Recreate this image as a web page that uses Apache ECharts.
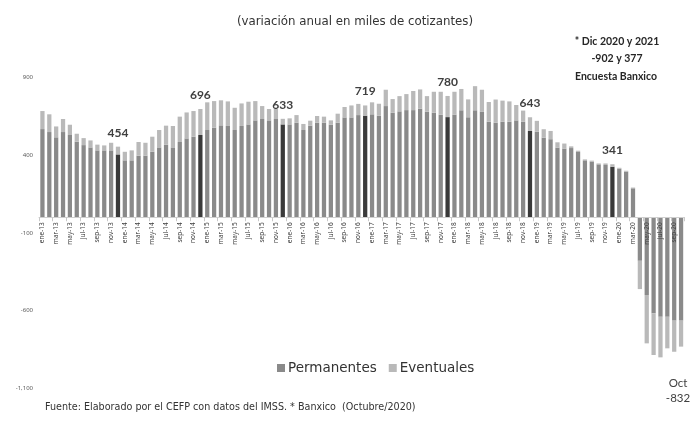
<!DOCTYPE html>
<html>
<head>
<meta charset="utf-8">
<script src="https://cdn.jsdelivr.net/npm/echarts@6/dist/echarts.min.js"></script>
<style>
html,body{margin:0;padding:0;background:#fff;}
#chart{width:695px;height:424px;}
</style>
</head>
<body>
<div id="chart"></div>
<script>
// Month abbreviations and years used for category labels (ene-13 ... oct-20)
const months = ['ene','feb','mar','abr','may','jun','jul','ago','sep','oct','nov','dic'];
const years = ['13','14','15','16','17','18','19','20'];
const monthCount = 94;

// Annual variation, thousands of insured workers
const permanentes = [
  567,548,514,548,529,486,464,449,430,430,430,404,
  366,366,396,396,421,449,466,449,484,507,518,529,
  561,576,591,587,561,587,597,623,632,623,632,597,
  597,608,561,589,608,608,595,608,642,642,657,653,
  662,653,715,672,681,689,689,698,679,672,659,644,
  660,688,643,688,680,614,608,614,614,623,614,555,
  550,512,502,448,442,445,420,366,358,340,336,325,
  312,293,186,-280,-500,-618,-640,-640,-665,-665
];
const eventuales = [
  116,114,70,84,66,51,45,45,37,32,49,50,
  55,64,88,83,97,112,123,138,163,167,165,167,
  178,171,161,158,143,145,146,124,83,73,64,36,
  39,49,39,32,43,39,28,58,67,77,72,66,
  77,77,105,88,98,103,123,124,100,135,148,136,
  147,137,115,155,140,127,149,136,131,99,72,88,
  70,54,53,34,32,11,8,6,6,6,10,16,
  6,6,5,-182,-311,-268,-261,-203,-200,-167
];
const yTicks = [-1100, -600, -100, 400, 900];

const categories = [];
for (const y of years) for (const m of months) if (categories.length < monthCount) categories.push(m + '-' + y);

const colPerm = '#8a8a8a', colEvent = '#b9b9b9', colDec = '#3a3a3a';

const permData = permanentes.map((v, i) => categories[i].startsWith('dic')
  ? {value: v, itemStyle: {color: colDec}} : v);
const eventData = eventuales.map((v, i) => categories[i].startsWith('dic')
  ? {value: v, label: {show: true}} : v);

function fmtNum(v){ return String(v).replace(/\B(?=(\d{3})+(?!\d))/g, ','); }

// grid geometry
const gridTop = 77.3, gridBottom = 35.7, chartH = 424;
const yMin = yTicks[0], yMax = yTicks[yTicks.length - 1];
const plotH = chartH - gridTop - gridBottom;
const zeroShift = plotH * (0 - yMin) / (yMax - yMin); // distance from bottom of grid to value 0

const chart = echarts.init(document.getElementById('chart'), null, {renderer: 'canvas'});
chart.setOption({
  animation: false,
  backgroundColor: '#fff',
  title: {
    text: '(variación anual en miles de cotizantes)',
    left: 350, top: 11, textAlign: 'center',
    textStyle: {fontFamily: 'DejaVu Sans', fontSize: 11.8, fontWeight: 'normal', color: '#333'}
  },
  grid: {left: 39, right: 10.5, top: gridTop, bottom: gridBottom, containLabel: false},
  legend: {
    data: ['Permanentes', 'Eventuales'],
    left: 272, top: 356,
    icon: 'rect', itemWidth: 8, itemHeight: 8, itemGap: 12,
    textStyle: {fontFamily: 'DejaVu Sans', fontSize: 13.5, color: '#333', padding: [0,0,0,-2]}
  },
  xAxis: {
    type: 'category',
    data: categories,
    offset: -zeroShift,
    z: 5,
    axisLine: {onZero: false, lineStyle: {color: '#d0d0d0', width: 1}},
    axisTick: {show: true, interval: 1, length: 4, lineStyle: {color: '#c8c8c8'}},
    axisLabel: {interval: 1, rotate: 90, fontSize: 6.5, fontFamily: 'Noto Sans', color: '#404040', margin: 5}
  },
  yAxis: {
    type: 'value',
    min: yMin, max: yMax, interval: 500,
    splitLine: {show: false}, axisLine: {show: false}, axisTick: {show: false},
    axisLabel: {fontSize: 6, fontFamily: 'Noto Sans', color: '#595959', margin: 6, formatter: fmtNum}
  },
  series: [
    {
      name: 'Permanentes', type: 'bar', stack: 'total',
      data: permData, barWidth: '62%', z: 2,
      itemStyle: {color: colPerm}
    },
    {
      name: 'Eventuales', type: 'bar', stack: 'total',
      data: eventData, barWidth: '62%', z: 2,
      itemStyle: {color: colEvent},
      label: {
        show: false, position: 'top', distance: 8,
        fontFamily: 'Lato', fontWeight: 'bold', fontSize: 12, color: '#404040',
        formatter: p => String(permanentes[p.dataIndex] + eventuales[p.dataIndex])
      }
    }
  ],
  graphic: [
    {type: 'text', style: {text: '* Dic 2020 y 2021', x: 617, y: 42, align: 'center', verticalAlign: 'middle', textAlign: 'center', textVerticalAlign: 'middle', fontFamily: 'Lato', fontWeight: 'bold', fontSize: 10.5, fill: '#262626'}},
    {type: 'text', style: {text: '-902 y 377', x: 617, y: 59, align: 'center', verticalAlign: 'middle', textAlign: 'center', textVerticalAlign: 'middle', fontFamily: 'Lato', fontWeight: 'bold', fontSize: 10.5, fill: '#262626'}},
    {type: 'text', style: {text: 'Encuesta Banxico', x: 616, y: 77, align: 'center', verticalAlign: 'middle', textAlign: 'center', textVerticalAlign: 'middle', fontFamily: 'Lato', fontWeight: 'bold', fontSize: 10.5, fill: '#262626'}},
    {type: 'text', style: {text: 'Oct', x: 678, y: 383, align: 'center', verticalAlign: 'middle', textAlign: 'center', textVerticalAlign: 'middle', fontFamily: 'Lato', fontSize: 11.5, fill: '#404040'}},
    {type: 'text', style: {text: '-832', x: 678, y: 398, align: 'center', verticalAlign: 'middle', textAlign: 'center', textVerticalAlign: 'middle', fontFamily: 'Lato', fontSize: 11.5, fill: '#404040'}},
    {type: 'text', style: {text: 'Fuente: Elaborado por el CEFP con datos del IMSS. * Banxico  (Octubre/2020)', x: 45, y: 407, align: 'left', verticalAlign: 'middle', textAlign: 'left', textVerticalAlign: 'middle', fontFamily: 'DejaVu Sans', fontSize: 9.6, fill: '#333'}}
  ]
});
</script>
</body>
</html>
